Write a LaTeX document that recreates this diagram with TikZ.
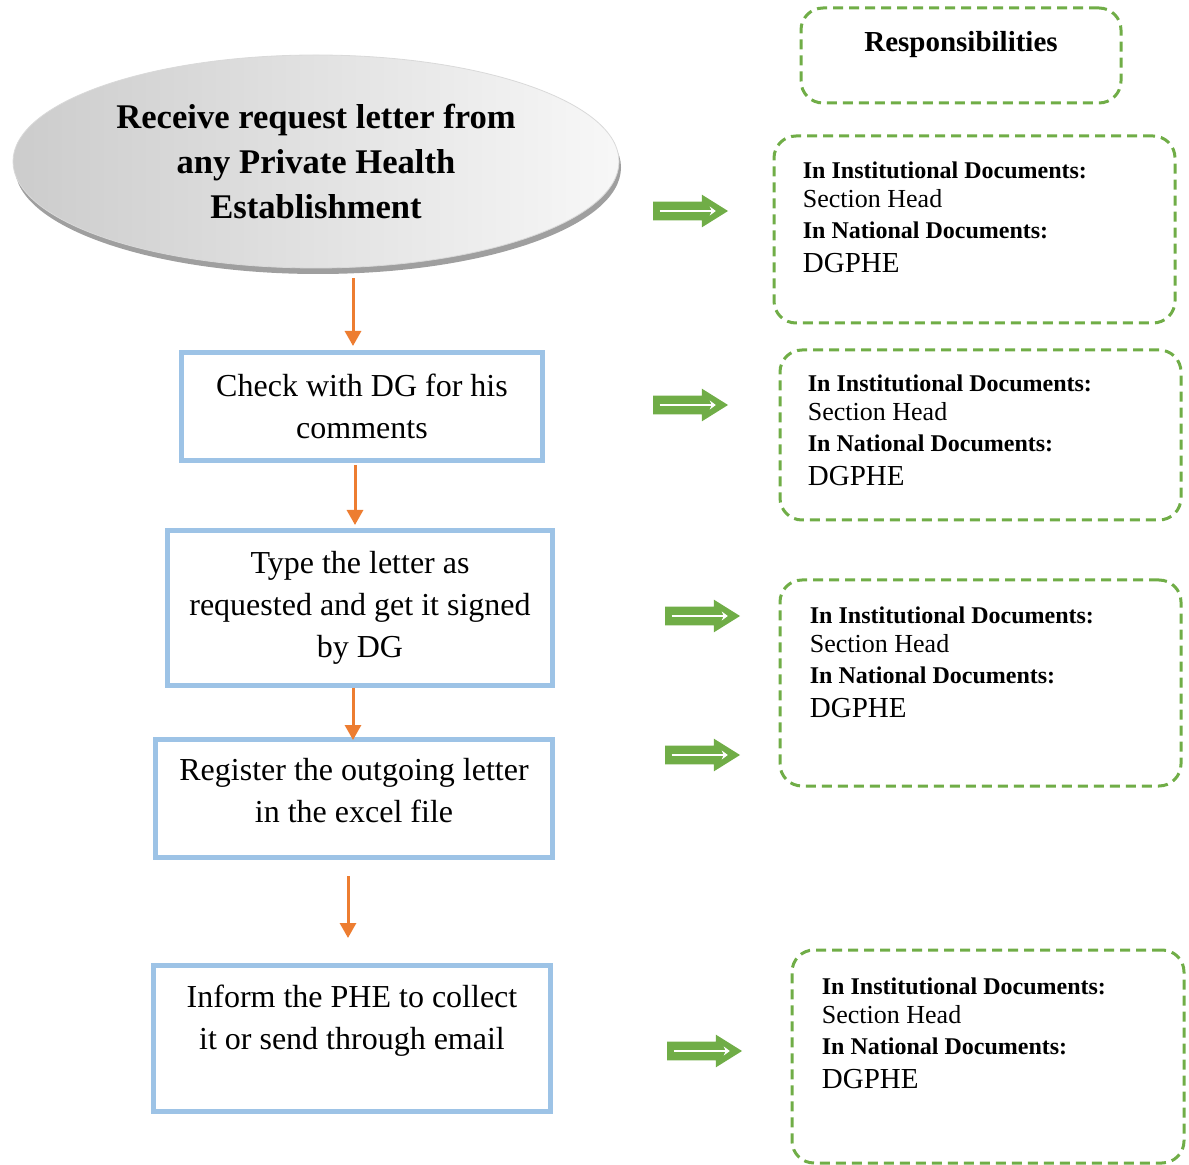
\documentclass[tikz,border=0pt]{standalone}
\usepackage{fontspec}
\setmainfont{Liberation Serif}
\usepackage{xcolor}
\usepackage{tikz}
\usetikzlibrary{shapes.geometric, shapes.arrows, arrows.meta, shadows}
\definecolor{boxblue}{HTML}{9DC3E6}
\definecolor{floworange}{HTML}{ED7D31}
\definecolor{dutygreen}{HTML}{70AD47}
\newcommand{\dutytext}{%
    \textbf{In Institutional Documents:}\\
    {\fontsize{13}{15}\selectfont Section Head}\\[1pt]
    \textbf{In National Documents:}\\[2.8pt]
    {\fontsize{14.5}{17}\selectfont DGPHE}}
\tikzset{
    request/.style={
        ellipse,
        draw=gray!30,
        thin,
        minimum width=303pt,
        minimum height=106.5pt,
        inner sep=0pt,
        left color=gray!40,
        right color=gray!6,
        drop shadow={shadow xshift=1pt, shadow yshift=-3pt, fill=gray!75, opacity=1},
        align=center,
        font=\bfseries\fontsize{17.3}{22.7}\selectfont
    },
    task/.style={
        rectangle,
        draw=boxblue,
        line width=2.5pt,
        inner sep=2pt,
        fill=white,
        align=center,
        font=\fontsize{16}{21}\selectfont
    },
    duty/.style={
        rectangle,
        draw=dutygreen,
        line width=1.5pt,
        dash pattern=on 5pt off 3pt,
        rounded corners=11pt
    },
    dutylabel/.style={
        anchor=north west,
        inner sep=0pt,
        align=left,
        font=\fontsize{12}{14.5}\selectfont
    },
    flowwire/.style={
        draw=floworange,
        line width=1.5pt,
        -{Triangle[length=7.5pt,width=8pt]}
    },
    pointer/.style={
        single arrow,
        fill=dutygreen,
        inner xsep=0pt,
        inner ysep=4.5pt,
        minimum height=37.5pt,
        single arrow head extend=3.5pt,
        single arrow tip angle=64
    },
    pointerline/.style={
        draw=white,
        line width=1.2pt,
        -{Stealth[length=3pt,width=4.5pt]}
    }
}
\begin{document}
\begin{tikzpicture}[x=0.5pt, y=-0.5pt]

\useasboundingbox (0,0) rectangle (1189,1165);

\node[request] (rcv) at (316,161.5) {Receive request letter from\\any Private Health\\Establishment};

\node[task, minimum width=180.5pt, minimum height=54pt] (check) at (362,406.5) {Check with DG for his\\comments};
\node[task, minimum width=192.5pt, minimum height=77.5pt] (type) at (360,608) {Type the letter as\\requested and get it signed\\by DG};
\node[task, minimum width=198.5pt, minimum height=59pt] (reg) at (354,798.5) {Register the outgoing letter\\in the excel file\\[-19.5pt] \strut};
\node[task, minimum width=198.5pt, minimum height=73pt] (inform) at (352,1038.5) {Inform the PHE to collect\\it or send through email\\[-6pt] \strut};

\draw[flowwire, shorten <=5pt, shorten >=2pt] ([xshift=-4.5pt]check.north |- rcv.south) -- ([xshift=-4.5pt]check.north);
\draw[flowwire, shorten <=1pt, shorten >=1.5pt] ([xshift=-3.5pt]check.south) -- ([xshift=-3.5pt]check.south |- type.north);
\draw[flowwire, shorten >=-1.5pt] ([xshift=-3.5pt]type.south) -- ([xshift=-3.5pt]type.south |- reg.north);
\draw[flowwire, shorten <=8pt, shorten >=12.5pt] ([xshift=-3pt]reg.south) -- ([xshift=-3pt]reg.south |- inform.north);

\node[duty, minimum width=160pt, minimum height=47.5pt] (resp) at (961,55.5) {};
\node[font=\bfseries\fontsize{14.5}{17}\selectfont] (resptitle) at ([yshift=-19pt]resp.north) {Responsibilities};

\node[duty, minimum width=200.5pt, minimum height=93.5pt] (d1) at (974.5,229.5) {};
\node[duty, minimum width=200.5pt, minimum height=85pt] (d2) at (980.5,435) {};
\node[duty, minimum width=200.5pt, minimum height=103pt] (d3) at (980.5,683) {};
\node[duty, minimum width=196pt, minimum height=106.5pt] (d4) at (988,1056.5) {};

\node[dutylabel] (t1) at ([shift={(15pt,-13.3pt)}]d1.north west) {\dutytext};
\node[dutylabel] (t2) at ([shift={(14.5pt,-12.8pt)}]d2.north west) {\dutytext};
\node[dutylabel] (t3) at ([shift={(15.5pt,-13.8pt)}]d3.north west) {\dutytext};
\node[dutylabel] (t4) at ([shift={(15.5pt,-14.3pt)}]d4.north west) {\dutytext};

\node[pointer] (p1) at (683,211) {};
\node[pointer] (p2) at (683,405) {};
\node[pointer] (p3) at (695,616) {};
\node[pointer] (p4) at (695,755) {};
\node[pointer] (p5) at (697,1051) {};

\draw[pointerline] ([xshift=3.5pt]p1.tail) -- ([xshift=-6.5pt]p1.tip);
\draw[pointerline] ([xshift=3.5pt]p2.tail) -- ([xshift=-6.5pt]p2.tip);
\draw[pointerline] ([xshift=3.5pt]p3.tail) -- ([xshift=-6.5pt]p3.tip);
\draw[pointerline] ([xshift=3.5pt]p4.tail) -- ([xshift=-6.5pt]p4.tip);
\draw[pointerline] ([xshift=3.5pt]p5.tail) -- ([xshift=-6.5pt]p5.tip);

\end{tikzpicture}
\end{document}
